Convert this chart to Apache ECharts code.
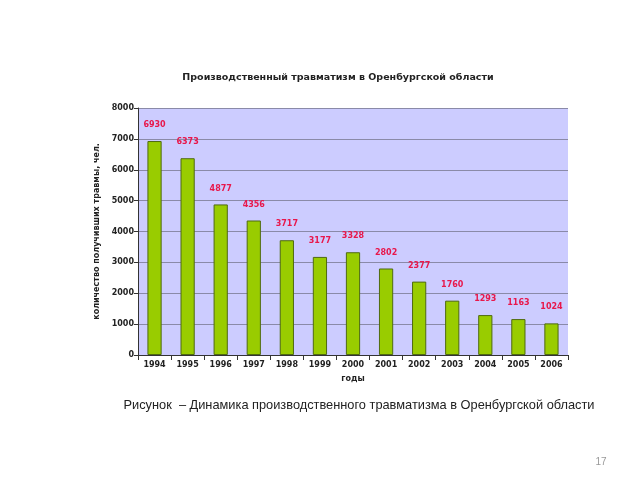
<!DOCTYPE html>
<html><head><meta charset="utf-8">
<script src="https://cdn.jsdelivr.net/npm/echarts@6/dist/echarts.min.js"></script>
<style>html,body{margin:0;padding:0;background:#fff}#c{width:640px;height:480px}</style>
</head><body><div id="c"></div>
<script>
const years = ['1994','1995','1996','1997','1998','1999','2000','2001','2002','2003','2004','2005','2006'];
const injuries = [6930,6373,4877,4356,3717,3177,3328,2802,2377,1760,1293,1163,1024];
const yTicks = [0,1000,2000,3000,4000,5000,6000,7000,8000];

const chart = echarts.init(document.getElementById('c'), null, {renderer:'canvas'});
chart.setOption({
  animation:false,
  backgroundColor:'#fff',
  title:[
    {text:'Производственный травматизм в Оренбургской области', left:333, top:68, textAlign:'center',
     textStyle:{fontFamily:'DejaVu Sans', fontSize:9.5, fontWeight:'bold', color:'#222'}},
    {text:'Рисунок  – Динамика производственного травматизма в Оренбургской области', left:354, top:394, textAlign:'center',
     textStyle:{fontFamily:'Liberation Sans', fontSize:12.8, fontWeight:'normal', color:'#222'}},
    {text:'17', left:596, top:452, textAlign:'center',
     textStyle:{fontFamily:'Liberation Sans', fontSize:10, fontWeight:'normal', color:'#999'}}
  ],
  grid:{left:138, right:72, top:108, bottom:125, show:true, backgroundColor:'#ccccff', borderWidth:0},
  xAxis:{type:'category', data:years, name:'годы', nameLocation:'middle', nameGap:20,
    nameTextStyle:{fontFamily:'DejaVu Sans', fontSize:8, fontWeight:'bold', color:'#222'},
    axisLine:{lineStyle:{color:'#333'}}, axisTick:{show:true, lineStyle:{color:'#333'}},
    axisLabel:{fontFamily:'DejaVu Sans', fontSize:8, fontWeight:'bold', color:'#222', margin:6}},
  yAxis:{type:'value', min:0, max:8000, interval:1000,
    name:'количество получивших травмы, чел.', nameLocation:'middle', nameGap:35,
    nameTextStyle:{fontFamily:'DejaVu Sans', fontSize:8, fontWeight:'bold', color:'#222'},
    axisLine:{show:true, lineStyle:{color:'#333'}}, axisTick:{show:true, length:4, lineStyle:{color:'#333'}},
    axisLabel:{fontFamily:'DejaVu Sans', fontSize:8, fontWeight:'bold', color:'#222', margin:4,
      formatter:v=>yTicks.includes(v)?String(v):''},
    splitLine:{lineStyle:{color:'#8a8aa8', width:1}}},
  series:[{type:'bar', data:injuries, barWidth:'43%',
    itemStyle:{color:'#99cc00', borderColor:'#4f6a10', borderWidth:1},
    label:{show:true, position:'top', distance:12, fontFamily:'DejaVu Sans', fontSize:8, fontWeight:'bold', color:'#e8174b'}}]
});
</script></body></html>
